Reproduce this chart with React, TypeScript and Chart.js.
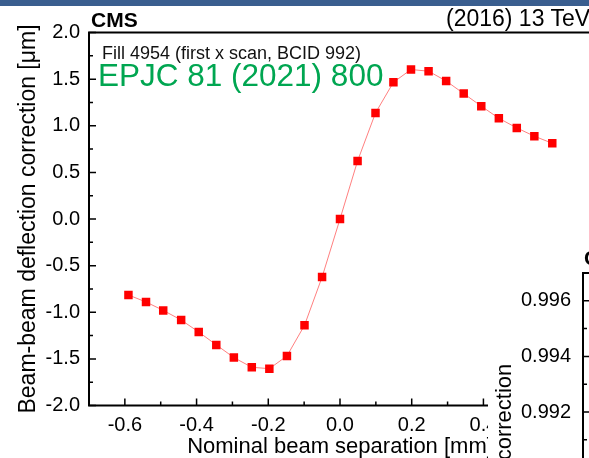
import React, { useEffect, useRef } from "react";
import { Chart, registerables } from "chart.js";

Chart.register(...registerables);

// ---- data ----
const SEPARATION = [
  -0.59, -0.541, -0.493, -0.443, -0.394, -0.345, -0.296, -0.246, -0.197, -0.148, -0.099, -0.05,
  0, 0.049, 0.099, 0.149, 0.198, 0.247, 0.296, 0.345, 0.394, 0.443, 0.493, 0.542, 0.592,
];
const DEFLECTION = [
  -0.815, -0.89, -0.98, -1.083, -1.212, -1.35, -1.486, -1.59, -1.605, -1.469, -1.14, -0.623,
  0.0, 0.622, 1.137, 1.466, 1.603, 1.585, 1.48, 1.345, 1.21, 1.08, 0.977, 0.888, 0.812,
];
const X_TICKS = [-0.6, -0.4, -0.2, 0.0, 0.2, 0.4, 0.6];
const X_MINOR = [-0.5, -0.3, -0.1, 0.1, 0.3, 0.5];
const Y_TICKS = [-2.0, -1.5, -1.0, -0.5, 0.0, 0.5, 1.0, 1.5, 2.0];
const Y_MINOR = [-1.75, -1.25, -0.75, -0.25, 0.25, 0.75, 1.25, 1.75];
const P2_TICKS = [0.988, 0.99, 0.992, 0.994, 0.996];
const P2_MINOR = [0.989, 0.991, 0.993, 0.995];

const X_TITLE = "Nominal beam separation [mm]";
const Y_TITLE = "Beam-beam deflection correction [\u03bcm]";
const P2_TITLE = "correction";

const FONT = '"Liberation Sans", Arial, Helvetica, sans-serif';

function makeFramePlugin(xMajor: number[], xMinor: number[], yMajor: number[], yMinor: number[]) {
  return {
    id: "frameTicks",
    afterDatasetsDraw(chart: any) {
      const { ctx, chartArea: a, scales } = chart;
      ctx.save();
      ctx.strokeStyle = "#000";
      ctx.lineWidth = 2;
      ctx.beginPath();
      ctx.rect(a.left, a.top, a.right - a.left, a.bottom - a.top);
      ctx.stroke();
      ctx.lineWidth = 1.5;
      ctx.beginPath();
      const xs = scales.x;
      const ys = scales.y;
      if (xs && xs.options.display !== false) {
        xMajor.forEach((v) => {
          const p = xs.getPixelForValue(v);
          ctx.moveTo(p, a.bottom);
          ctx.lineTo(p, a.bottom - 7);
        });
        xMinor.forEach((v) => {
          const p = xs.getPixelForValue(v);
          ctx.moveTo(p, a.bottom);
          ctx.lineTo(p, a.bottom - 4);
        });
      }
      yMajor.forEach((v) => {
        const p = ys.getPixelForValue(v);
        ctx.moveTo(a.left, p);
        ctx.lineTo(a.left + 7, p);
      });
      yMinor.forEach((v) => {
        const p = ys.getPixelForValue(v);
        ctx.moveTo(a.left, p);
        ctx.lineTo(a.left + 4, p);
      });
      ctx.stroke();
      ctx.restore();
    },
  };
}

function Label(props: { text: string; left: number; baseline: number; size: number; bold?: boolean; color?: string }) {
  const { text, left, baseline, size, bold, color } = props;
  return (
    <div
      style={{
        position: "absolute",
        left,
        top: baseline - 0.8465 * size,
        fontSize: size,
        lineHeight: `${size}px`,
        fontFamily: FONT,
        fontWeight: bold ? "bold" : "normal",
        color: color || "#000",
        whiteSpace: "nowrap",
      }}
    >
      {text}
    </div>
  );
}

export default function App() {
  const mainRef = useRef<HTMLCanvasElement>(null);
  const sideRef = useRef<HTMLCanvasElement>(null);

  useEffect(() => {
    const main = new Chart(mainRef.current as HTMLCanvasElement, {
      type: "line",
      data: {
        datasets: [
          {
            data: SEPARATION.map((x, i) => ({ x, y: DEFLECTION[i] })),
            borderColor: "rgba(255,0,0,0.5)",
            borderWidth: 1,
            backgroundColor: "#ff0000",
            pointStyle: "rect",
            pointRadius: 6,
            pointBorderWidth: 0,
            pointBackgroundColor: "#ff0000",
            tension: 0,
          },
        ],
      },
      options: {
        responsive: false,
        animation: false,
        layout: { padding: { top: 32.5, right: 9, left: 0, bottom: 0 } },
        plugins: { legend: { display: false }, tooltip: { enabled: false } },
        scales: {
          x: {
            type: "linear",
            min: -0.7,
            max: 0.7,
            afterBuildTicks: (s: any) => {
              s.ticks = X_TICKS.map((v) => ({ value: v }));
            },
            afterFit: (s: any) => {
              s.height = 54.5;
              s.paddingLeft = 0;
              s.paddingRight = 0;
            },
            grid: { display: false, drawTicks: false },
            border: { display: false },
            ticks: {
              padding: 8,
              autoSkip: false,
              maxRotation: 0,
              color: "#000",
              font: { size: 20, family: FONT },
              callback: (v: any) => Number(v).toFixed(1),
            },
            title: {
              display: true,
              text: X_TITLE,
              color: "#000",
              font: { size: 22, family: FONT },
              padding: { top: 0, bottom: 0 },
            },
          },
          y: {
            type: "linear",
            min: -2,
            max: 2,
            afterBuildTicks: (s: any) => {
              s.ticks = Y_TICKS.map((v) => ({ value: v }));
            },
            afterFit: (s: any) => {
              s.width = 89;
              s.paddingTop = 0;
              s.paddingBottom = 0;
            },
            grid: { display: false, drawTicks: false },
            border: { display: false },
            ticks: {
              padding: 9,
              autoSkip: false,
              color: "#000",
              font: { size: 20, family: FONT },
              callback: (v: any) => Number(v).toFixed(1),
            },
            title: {
              display: true,
              text: Y_TITLE,
              color: "#000",
              font: { size: 23, family: FONT },
              padding: { top: 15, bottom: 0 },
            },
          },
        },
      } as any,
      plugins: [makeFramePlugin(X_TICKS, X_MINOR, Y_TICKS, Y_MINOR)],
    });

    const side = new Chart(sideRef.current as HTMLCanvasElement, {
      type: "line",
      data: { datasets: [] },
      options: {
        responsive: false,
        animation: false,
        layout: { padding: { top: 37, right: 10, left: 0, bottom: 15 } },
        plugins: { legend: { display: false }, tooltip: { enabled: false } },
        scales: {
          x: { type: "linear", min: 0, max: 1, display: false },
          y: {
            type: "linear",
            min: 0.987,
            max: 0.997,
            afterBuildTicks: (s: any) => {
              s.ticks = P2_TICKS.map((v) => ({ value: v }));
            },
            afterFit: (s: any) => {
              s.width = 95;
              s.paddingTop = 0;
              s.paddingBottom = 0;
            },
            grid: { display: false, drawTicks: false },
            border: { display: false },
            ticks: {
              padding: 12,
              autoSkip: false,
              color: "#000",
              font: { size: 20, family: FONT },
              callback: (v: any) => Number(v).toFixed(3),
            },
            title: {
              display: true,
              text: P2_TITLE,
              color: "#000",
              font: { size: 22, family: FONT },
              padding: { top: 4, bottom: 0 },
            },
          },
        },
      } as any,
      plugins: [makeFramePlugin([], [], P2_TICKS, P2_MINOR)],
    });

    return () => {
      main.destroy();
      side.destroy();
    };
  }, []);

  return (
    <div
      style={{
        position: "fixed",
        left: 0,
        top: 0,
        width: 589,
        height: 458,
        overflow: "hidden",
        background: "#fff",
      }}
    >
      <canvas ref={mainRef} width={600} height={460} style={{ position: "absolute", left: 0, top: 0 }} />
      <div style={{ position: "absolute", left: 0, top: 0, width: 589, height: 6, background: "#3a5e8f" }} />
      <Label text="CMS" left={91} baseline={26.7} size={21} bold />
      <Label text="(2016) 13 TeV" left={446} baseline={26.7} size={23} />
      <Label text="Fill 4954 (first x scan, BCID 992)" left={102} baseline={59.5} size={18} color="#111" />
      <Label text="EPJC 81 (2021) 800" left={98} baseline={86.7} size={31.5} color="#00a651" />
      <div
        style={{
          position: "absolute",
          left: 488,
          top: 236,
          width: 120,
          height: 240,
          background: "#fff",
          overflow: "hidden",
        }}
      >
        <canvas ref={sideRef} width={200} height={330} style={{ position: "absolute", left: 0, top: 0 }} />
      </div>
      <Label text="CMS" left={584} baseline={265} size={21} bold />
    </div>
  );
}
